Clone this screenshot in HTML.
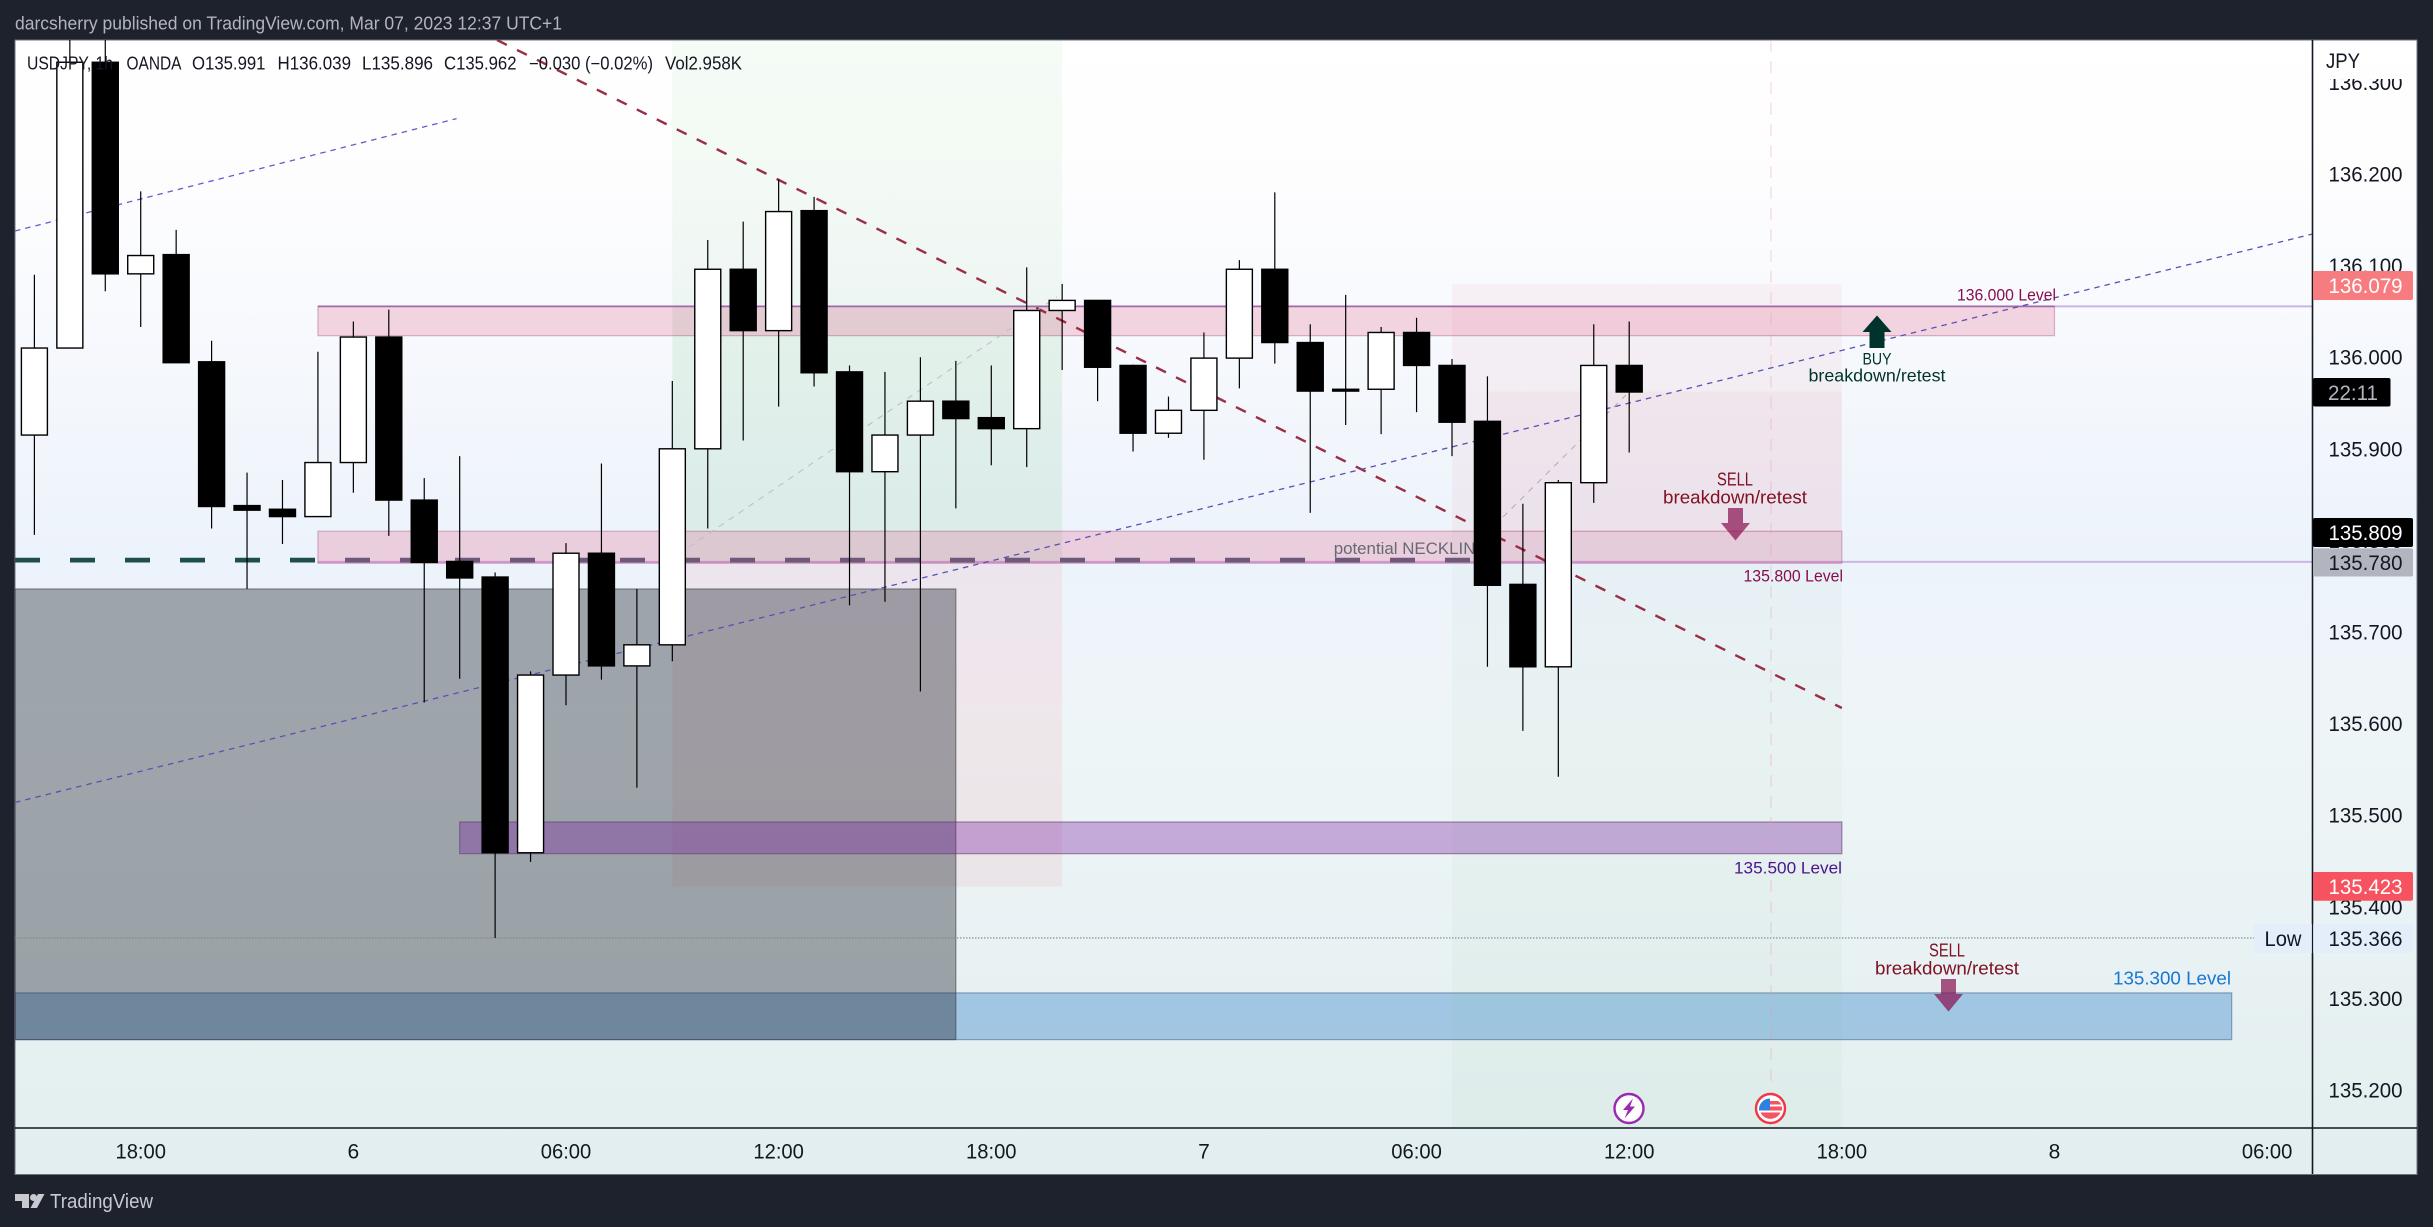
<!DOCTYPE html>
<html lang="en">
<head>
<meta charset="utf-8">
<title>USDJPY 1h chart</title>
<style>
html,body{margin:0;padding:0;background:#1e222d;width:2433px;height:1227px;overflow:hidden}
svg{display:block;font-family:"Liberation Sans",sans-serif}
</style>
</head>
<body>
<svg id="chart" xmlns="http://www.w3.org/2000/svg" width="2433" height="1227" viewBox="0 0 2433 1227">
  <defs>
    <linearGradient id="bgGrad" x1="0" y1="0" x2="0" y2="1">
      <stop offset="0" stop-color="#ffffff"/>
      <stop offset="0.13" stop-color="#fdfdfe"/>
      <stop offset="0.45" stop-color="#edf3fb"/>
      <stop offset="0.62" stop-color="#eef5f7"/>
      <stop offset="1" stop-color="#e2eeef"/>
    </linearGradient>
    <clipPath id="plotClip"><rect x="15" y="40" width="2297.5" height="1088"/></clipPath>
    <clipPath id="tickClip"><rect x="2314" y="79" width="103" height="1048"/></clipPath>
  </defs>
  <rect x="0" y="0" width="2433" height="1227" fill="#1e222d"/>
  <rect x="15" y="40" width="2402" height="1134.5" fill="url(#bgGrad)" stroke="#6f737e" stroke-width="1"/>
  <text x="15" y="29.5" font-size="18" fill="#b2b5be" textLength="547" lengthAdjust="spacingAndGlyphs">darcsherry published on TradingView.com, Mar 07, 2023 12:37 UTC+1</text>
  <g id="under" clip-path="url(#plotClip)"></g>
  <g id="candles" clip-path="url(#plotClip)"></g>
  <g font-size="18" fill="#131722">
    <text x="27" y="69.5" textLength="86" lengthAdjust="spacingAndGlyphs">USDJPY, 1h</text>
    <text x="126.5" y="69.5" textLength="55" lengthAdjust="spacingAndGlyphs">OANDA</text>
    <text x="192" y="69.5" textLength="73.5" lengthAdjust="spacingAndGlyphs">O135.991</text>
    <text x="277.5" y="69.5" textLength="73.5" lengthAdjust="spacingAndGlyphs">H136.039</text>
    <text x="362" y="69.5" textLength="71" lengthAdjust="spacingAndGlyphs">L135.896</text>
    <text x="444" y="69.5" textLength="72.5" lengthAdjust="spacingAndGlyphs">C135.962</text>
    <text x="529" y="69.5" textLength="124" lengthAdjust="spacingAndGlyphs">−0.030 (−0.02%)</text>
    <text x="665" y="69.5" textLength="77" lengthAdjust="spacingAndGlyphs">Vol2.958K</text>
  </g>
  <g id="notes"></g>
  <line x1="2312.5" y1="40" x2="2312.5" y2="1174" stroke="#131722" stroke-width="1.6"/>
  <line x1="15" y1="1128" x2="2417" y2="1128" stroke="#131722" stroke-width="1.6"/>
  <text x="2326" y="68" font-size="21" fill="#131722" textLength="34" lengthAdjust="spacingAndGlyphs">JPY</text>
  <g id="priceTicks" clip-path="url(#tickClip)"></g>
  <g id="timeTicks"></g>
  <g id="badges"></g>
  <g fill="#c8cad0">
    <path d="M15 1194h14v14h-7v-7h-7z M38 1194h6.500l-7.500 14h-6.500z"/>
    <circle cx="33.500" cy="1197.500" r="3.500"/>
    <text x="50" y="1208" font-size="20" textLength="103" lengthAdjust="spacingAndGlyphs">TradingView</text>
  </g>
</svg>
<script>
const candleTimes = ["15h","16h","17h","18h","19h","20h","21h","22h","23h","0h","1h","2h","3h","4h","5h","6h","7h","8h","9h","10h","11h","12h","13h","14h","15h","16h","17h","18h","19h","20h","21h","22h","23h","0h","1h","2h","3h","4h","5h","6h","7h","8h","9h","10h","11h","12h"];
const opens = [135.915,136.010,136.322,136.091,136.112,135.995,135.838,135.834,135.826,135.885,136.022,135.844,135.777,135.760,135.459,135.653,135.786,135.663,135.686,135.900,136.096,136.029,136.160,135.984,135.875,135.915,135.952,135.934,135.922,136.051,136.062,135.991,135.917,135.942,135.999,136.096,136.016,135.965,135.965,136.027,135.991,135.930,135.752,135.662,135.863,135.991];
const highs = [136.090,136.380,136.380,136.181,136.139,136.018,135.874,135.866,136.006,136.039,136.052,135.868,135.892,135.765,135.657,135.797,135.884,135.747,135.974,136.128,136.148,136.194,136.175,135.991,135.984,136.000,135.996,135.991,136.098,136.080,136.062,135.992,135.957,136.027,136.106,136.180,136.036,136.068,136.033,136.043,135.998,135.979,135.840,135.866,136.036,136.039];
const lows = [135.806,136.010,136.072,136.033,135.994,135.813,135.747,135.796,135.826,135.852,135.805,135.623,135.649,135.366,135.449,135.620,135.648,135.530,135.668,135.813,135.909,135.946,135.968,135.729,135.733,135.635,135.835,135.882,135.880,135.986,135.952,135.897,135.912,135.888,135.966,135.993,135.830,135.926,135.916,135.940,135.892,135.662,135.592,135.542,135.841,135.896];
const closes = [136.010,136.322,136.091,136.111,135.994,135.837,135.833,135.826,135.885,136.022,135.844,135.776,135.759,135.459,135.653,135.786,135.663,135.686,135.900,136.096,136.029,136.159,135.983,135.875,135.915,135.952,135.933,135.922,136.051,136.062,135.989,135.917,135.942,135.999,136.096,136.016,135.963,135.963,136.027,135.991,135.929,135.751,135.662,135.863,135.991,135.962];
const priceTickValues = [136.3,136.2,136.1,136.0,135.9,135.8,135.7,135.6,135.5,135.4,135.3,135.2];
const timeTickBars = [3,9,15,21,27,33,39,45,51,57,63];
const timeTickLabels = ["18:00","6","06:00","12:00","18:00","7","06:00","12:00","18:00","8","06:00"];

const SVGNS = "http://www.w3.org/2000/svg";
function xOf(bar){ return 34.4 + 35.44 * bar; }
function yOf(price){ return 1090 + (135.2 - price) * 916; }
function mk(parent, tag, attrs){
  const el = document.createElementNS(SVGNS, tag);
  for (const k in attrs) el.setAttribute(k, attrs[k]);
  parent.appendChild(el);
  return el;
}
const under = document.getElementById("under");
const candlesG = document.getElementById("candles");
const notes = document.getElementById("notes");
const priceG = document.getElementById("priceTicks");
const timeG = document.getElementById("timeTicks");
const badgesG = document.getElementById("badges");
const LEFT = 15, RIGHT = 2312.5;

function zone(name, x0, x1, pTop, pBot, fill, stroke){
  const yT = yOf(pTop), yB = yOf(pBot);
  const r = mk(under, "rect", {x:x0, y:yT, width:x1-x0, height:yB-yT, fill:fill});
  
  
  if (stroke){ r.setAttribute("stroke", stroke); r.setAttribute("stroke-width", "1.2"); }
  return r;
}
function ray(name, x0, x1, y0, y1, color, width, dash){
  const l = mk(under, "line", {x1:x0, y1:y0, x2:x1, y2:y1, stroke:color, "stroke-width":width});
  
  
  if (dash) l.setAttribute("stroke-dasharray", dash);
  return l;
}
function note(parent, name, txt, cx, cy, size, color, len, anchor){
  const t = mk(parent, "text", {x:cx, y:cy + size*0.36, "font-size":size, fill:color, "text-anchor":anchor||"middle", textLength:len, lengthAdjust:"spacingAndGlyphs"});
  
  
  t.textContent = txt;
  return t;
}
function arrow(name, cx, yStart, yHead, yTip, hw, sw, color){
  const p = mk(notes, "polygon", {points:[[cx-sw,yStart],[cx+sw,yStart],[cx+sw,yHead],[cx+hw,yHead],[cx,yTip],[cx-hw,yHead],[cx-sw,yHead]].map(a=>a.join(",")).join(" "), fill:color});
  
  
}
function badge(name, label, x1, yT, yB, fill, color, cx){
  const r = mk(badgesG, "rect", {x:2313, y:yT, width:x1-2313, height:yB-yT, rx:2, fill:fill});
  
  
  const t = mk(badgesG, "text", {x:cx, y:(yT+yB)/2 + 7.500, "font-size":21, fill:color, "text-anchor":"middle", textLength:label.length===5?50:74, lengthAdjust:"spacingAndGlyphs"});
  
  
  t.textContent = label;
}

/* dashed dark-green level, left segment */
ray("support-dashed-level", LEFT, 317, yOf(135.7785), yOf(135.7785), "#1f4f4b", 4.8, "25 30");

/* blue band sits beneath the grey box */
zone("support-band-1353", LEFT, xOf(62), 135.306, 135.255, "rgba(55,135,205,0.4)", "rgba(60,90,130,0.5)");

/* position tools */
zone("long-target-zone", xOf(18), xOf(29), 136.40, 135.776, "rgba(76,175,80,0.055)");
zone("long-target-zone-inner", xOf(18), xOf(29), 136.055, 135.776, "rgba(60,170,90,0.05)");
zone("long-stop-zone", xOf(18), xOf(29), 135.776, 135.422, "rgba(242,54,69,0.07)");
zone("short-stop-zone", xOf(40), xOf(51), 136.080, 135.809, "rgba(225,80,100,0.06)");
zone("short-stop-zone-inner", xOf(41), xOf(51), 135.9625, 135.809, "rgba(242,54,69,0.04)");
zone("short-target-zone", xOf(40), xOf(51), 135.809, 135.150, "rgba(76,175,80,0.035)");

/* horizontal rays */
ray("level-136-ray", xOf(57), RIGHT, yOf(136.0555), yOf(136.0555), "#c9b6e6", 2);
ray("level-1358-ray", xOf(51), RIGHT, yOf(135.7765), yOf(135.7765), "#c9b6e6", 2);
ray("level-1358-ray-left", xOf(8), xOf(51), yOf(135.7765), yOf(135.7765), "rgba(180,120,220,0.55)", 2);
ray("level-136-ray-left", xOf(8), xOf(57), yOf(136.0555), yOf(136.0555), "rgba(140,110,190,0.7)", 2);

/* pink bands */
zone("resistance-band-136", xOf(8), xOf(57), 136.0555, 136.0235, "rgba(225,58,112,0.2)", "rgba(136,14,79,0.28)");
zone("neckline-band-1358", xOf(8), xOf(51), 135.810, 135.775, "rgba(225,58,112,0.2)", "rgba(136,14,79,0.28)");

/* dashed level continues inside the band, washed out */
const dashInBand = ray("support-dashed-level-in-band", 345, 1472, yOf(135.7785), yOf(135.7785), "#6d5a7a", 4.8, "25 30");

const greyBox = zone("shaded-history-box", LEFT, xOf(26), 135.747, 135.255, "rgba(30,34,45,0.38)", "rgba(60,60,70,0.55)");
zone("support-band-1355", xOf(12), xOf(51), 135.4926, 135.458, "rgba(123,31,162,0.35)", "rgba(90,60,110,0.55)");

/* trend lines */
ray("downtrend-line", 497, xOf(51), 40, 708, "#9b2d45", 2.4, "11 11.3");
ray("uptrend-line-upper", LEFT, 456.6, 231, 118.6, "#6a5ac8", 1.3, "5.5 5");
ray("uptrend-line-lower", LEFT, RIGHT, 802.4, 234, "#5d4fb5", 1.3, "5.5 5");
ray("position-diagonal-long", 689, 1057, 547, 297, "#b9c2c6", 1.1, "6 6");
ray("position-diagonal-short", 1503, 1626, 517, 395, "#b5b0b8", 1.1, "6 6");
ray("event-marker-line", xOf(49), xOf(49), 40, 1090, "rgba(240,150,175,0.38)", 1.2, "12 9");
ray("session-low-line", LEFT, 2254, yOf(135.366), yOf(135.366), "#7f8790", 1.2, "1.500 1.500");
note(under, "neckline-label", "potential NECKLINE", 1333.7, 548, 17, "#666a72", 153, "start");

/* candles */
const halfBody = 13;
for (let i = 0; i < candleTimes.length; i++){
  const up = closes[i] >= opens[i];
  const x = xOf(i);
  const yH = yOf(highs[i]), yL = yOf(lows[i]);
  const yO = yOf(opens[i]), yC = yOf(closes[i]);
  const wick = mk(candlesG, "line", {x1:x, x2:x, y1:yH, y2:yL, stroke:"#000", "stroke-width":1.2});
  
  
  const top = Math.min(yO, yC), h = Math.max(Math.abs(yO - yC), 1);
  const body = mk(candlesG, "rect", {x:x-halfBody, y:top, width:halfBody*2, height:h, fill:up?"#ffffff":"#000000", stroke:"#000", "stroke-width":1.4});
  
  
}

/* notes */
note(notes, "level-136-label", "136.000 Level", 1957, 294.6, 16.5, "#880e4f", 99, "start");
note(notes, "level-1358-label", "135.800 Level", 1743.5, 575.7, 16.5, "#880e4f", 99.5, "start");
note(notes, "level-1355-label", "135.500 Level", 1734, 867.6, 16.5, "#4a148c", 108, "start");
note(notes, "level-1353-label", "135.300 Level", 2113, 978, 18.5, "#1976d2", 118, "start");
note(notes, "buy-label", "BUY", 1877, 358.6, 17, "#00332c", 29);
note(notes, "buy-setup-label", "breakdown/retest", 1877, 375, 17.5, "#00332c", 137);
note(notes, "sell-label-upper", "SELL", 1735, 479, 18, "#801224", 36);
note(notes, "sell-setup-label-upper", "breakdown/retest", 1735, 497, 18, "#801224", 144);
note(notes, "sell-label-lower", "SELL", 1947, 950, 18, "#801224", 36);
note(notes, "sell-setup-label-lower", "breakdown/retest", 1947, 968, 18, "#801224", 144);
arrow("buy-arrow", 1877, 348, 332, 315.5, 14.500, 7.500, "#00332c");
arrow("sell-arrow-upper", 1735.5, 508, 523, 540.5, 14.500, 7.500, "rgba(136,14,79,0.7)");
arrow("sell-arrow-lower", 1948.5, 979, 994, 1011.6, 14.500, 7.500, "rgba(136,14,79,0.7)");

/* event icons */
const boltRing = mk(notes, "circle", {cx:1629, cy:1108.5, r:14.500, fill:"#fff", stroke:"#9c27b0", "stroke-width":2.4});


const bolt = mk(notes, "path", {d:"M1633 1098.500L1623 1110h5l-3.500 8.500L1635 1106.500h-5z", fill:"#9c27b0"});


const flagRing = mk(notes, "circle", {cx:1770.5, cy:1108.5, r:14.500, fill:"#fff", stroke:"#f23645", "stroke-width":2.4});


const stripe1 = mk(notes, "path", {d:"M1763 1101h15a11 11 0 0 1 3.500 3.500h-18.500z M1770 1106.500h12v4h-12z", fill:"#f7525f"});


const stripe2 = mk(notes, "path", {d:"M1760.500 1112.500h20a11 11 0 0 1 -20 0z", fill:"#f7525f"});


const canton = mk(notes, "path", {d:"M1770 1098.500v12h-11a11 11 0 0 1 11 -12z", fill:"#2f80e0"});



/* price ticks */
priceTickValues.forEach(function(p){
  const t = mk(priceG, "text", {x:2365.5, y:yOf(p) + 7.500, "font-size":21, fill:"#131722", "text-anchor":"middle", textLength:74, lengthAdjust:"spacingAndGlyphs"});
  
  
  t.textContent = p.toFixed(3);
});

/* time ticks */
timeTickBars.forEach(function(b, i){
  const s = timeTickLabels[i];
  const t = mk(timeG, "text", {x:xOf(b), y:1158.5, "font-size":21, fill:"#131722", "text-anchor":"middle"});
  
  
  if (s.length > 1){ t.setAttribute("textLength", 50.5); t.setAttribute("lengthAdjust", "spacingAndGlyphs"); }
  t.textContent = s;
});

/* badges */
const lowBox = mk(badgesG, "rect", {x:2254, y:924, width:159, height:29, fill:"#e4eefa"});


const lowDiv = mk(badgesG, "line", {x1:2312.5, x2:2312.5, y1:924, y2:953, stroke:"#131722", "stroke-width":1.2});


const lowText = mk(badgesG, "text", {x:2264.5, y:946, "font-size":21, fill:"#131722", textLength:37, lengthAdjust:"spacingAndGlyphs"});


lowText.textContent = "Low";
const lowVal = mk(badgesG, "text", {x:2365.5, y:946, "font-size":21, fill:"#131722", "text-anchor":"middle", textLength:74, lengthAdjust:"spacingAndGlyphs"});


lowVal.textContent = "135.366";
badge("target-price-badge", "136.079", 2413, 271, 300, "#f77c80", "#ffffff", 2365.5);
badge("countdown-badge", "22:11", 2390.5, 378, 406.5, "#000000", "#b2b5be", 2353);
badge("entry-price-badge", "135.809", 2413, 518, 547, "#000000", "#ffffff", 2365.5);
badge("level-price-badge", "135.780", 2413, 548.4, 576.5, "#b2b5be", "#131722", 2365.5);
badge("stop-price-badge", "135.423", 2413, 872, 900.8, "#f7525f", "#ffffff", 2365.5);
</script>
</body>
</html>
